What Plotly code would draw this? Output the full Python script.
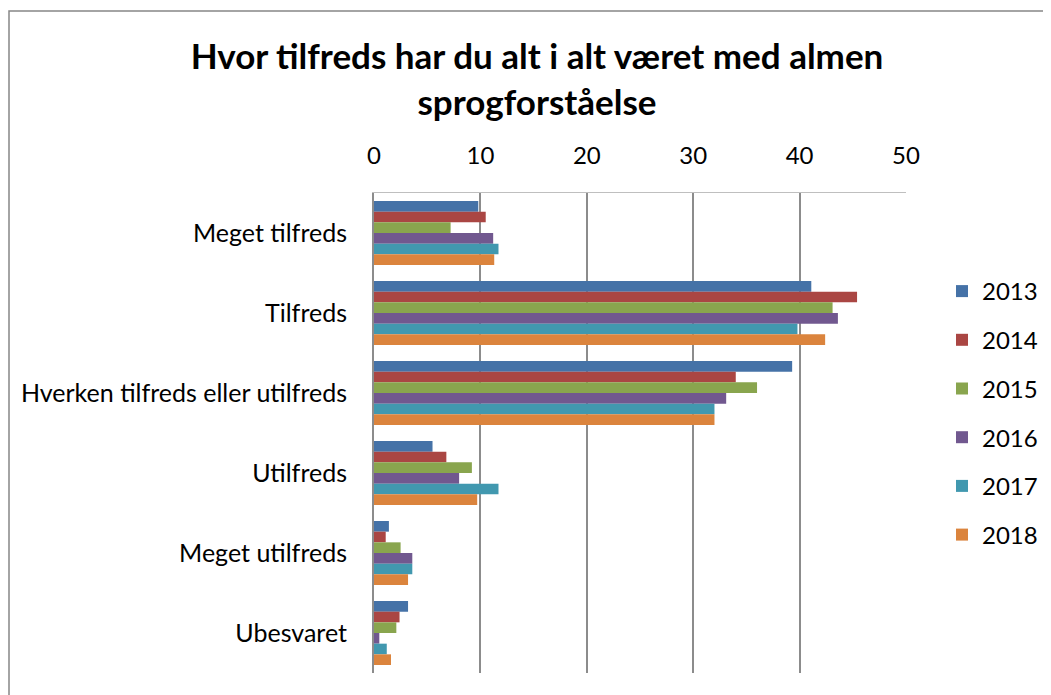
import plotly.graph_objects as go

categories = ["Meget tilfreds", "Tilfreds", "Hverken tilfreds eller utilfreds",
              "Utilfreds", "Meget utilfreds", "Ubesvaret"]
years = ["2013", "2014", "2015", "2016", "2017", "2018"]
v2013 = [9.8, 41.1, 39.3, 5.5, 1.4, 3.2]
v2014 = [10.5, 45.4, 34.0, 6.8, 1.1, 2.4]
v2015 = [7.2, 43.1, 36.0, 9.2, 2.5, 2.1]
v2016 = [11.2, 43.6, 33.1, 8.0, 3.6, 0.5]
v2017 = [11.7, 39.8, 32.0, 11.7, 3.6, 1.2]
v2018 = [11.3, 42.4, 32.0, 9.7, 3.2, 1.6]
series = [v2013, v2014, v2015, v2016, v2017, v2018]
colors = ["#4572A7", "#AA4643", "#89A54E", "#71588F", "#4198AF", "#DB843D"]

FONT = "Lato"
# page body has an 8px margin: figure coordinates = page coordinates - 8
W, H = 1043, 687
L, R, T, B = 366, 898, 185, 665

fig = go.Figure()
for name, vals, col in zip(years, series, colors):
    fig.add_trace(go.Bar(
        y=categories, x=vals, name=name, orientation="h",
        marker=dict(color=col, line=dict(width=0)),
        legendgroup=name,
    ))

def px_x(p):
    return (p - L) / (R - L)

def px_y(p):
    return (B - p) / (B - T)

fig.update_layout(
    width=W, height=H,
    margin=dict(l=L, r=W - R, t=T, b=H - B, autoexpand=False),
    paper_bgcolor="white", plot_bgcolor="white",
    barmode="group", bargap=0.2, bargroupgap=0,
    font=dict(family=FONT, size=24, color="black"),
    title=dict(
        text="<b>Hvor tilfreds har du alt i alt været med almen<br>sprogforståelse</b>",
        font=dict(family=FONT, size=35, color="black"),
        x=529 / W, xanchor="center", y=1 - 61 / H, yanchor="middle",
    ),
    xaxis=dict(
        side="top", range=[0, 50], dtick=10, tick0=0,
        showgrid=True, gridcolor="#8C8C8C", gridwidth=2,
        zeroline=False, showline=True, linecolor="#BFBFBF", linewidth=1, mirror=False,
        ticks="", ticklabelstandoff=18,
        tickfont=dict(family=FONT, size=24, color="black"),
        fixedrange=True,
    ),
    yaxis=dict(
        autorange="reversed", showgrid=False, zeroline=False,
        showline=True, linecolor="#8C8C8C", linewidth=2,
        ticks="", ticklabelstandoff=20,
        tickfont=dict(family=FONT, size=25, color="black"),
        fixedrange=True,
    ),
    legend=dict(
        x=px_x(934), xanchor="left", y=px_y(261), yanchor="top",
        traceorder="grouped", tracegroupgap=14.5,
        font=dict(family=FONT, size=24, color="black"),
        bgcolor="rgba(0,0,0,0)",
    ),
    shapes=[dict(
        type="rect", xref="paper", yref="paper",
        x0=px_x(1), x1=px_x(1070), y0=px_y(720), y1=px_y(3),
        line=dict(color="#868686", width=1.5), fillcolor="rgba(0,0,0,0)", layer="below",
    )],
)

fig.write_html("out.html")
